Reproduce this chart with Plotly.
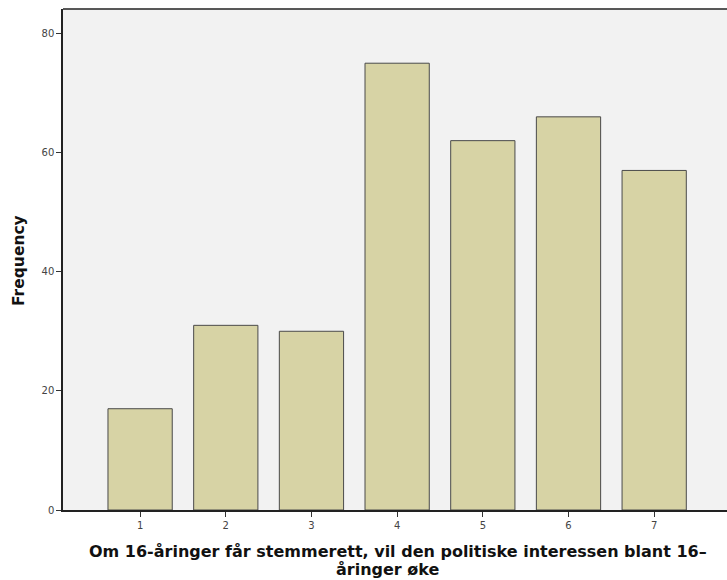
import plotly.graph_objects as go

categories = [1, 2, 3, 4, 5, 6, 7]
frequency = [17, 31, 30, 75, 62, 66, 57]
y_ticks = [0, 20, 40, 60, 80]
x_title_lines = ["Om 16-åringer får stemmerett, vil den politiske interessen blant 16–", "åringer øke"]

fig = go.Figure()
fig.add_trace(go.Bar(
    x=categories, y=frequency, width=0.75,
    marker=dict(color="#D7D3A5", line=dict(color="#4a4a4a", width=1)),
))

fig.update_layout(
    width=727, height=580,
    margin=dict(l=63, r=0, t=9, b=70),
    paper_bgcolor="white", plot_bgcolor="#F2F2F2",
    showlegend=False,
    font=dict(family="DejaVu Sans", size=10, color="#444444"),
    xaxis=dict(
        range=[0.1, 7.85], tickvals=categories, ticktext=[str(c) for c in categories],
        ticks="outside", ticklen=5, tickcolor="#333333", showgrid=False, zeroline=False,
        showline=True, linecolor="#222222", linewidth=1.5, automargin=False,
        tickfont=dict(size=10, color="#444444"),
    ),
    yaxis=dict(
        range=[0, 84.1], tickvals=y_ticks, ticks="outside", ticklen=5, tickcolor="#333333",
        showgrid=False, zeroline=False, showline=True, linecolor="#222222", linewidth=1.5,
        automargin=False, tickfont=dict(size=10, color="#444444"),
    ),
)
# top border
fig.add_shape(type="line", xref="paper", yref="paper", x0=0, x1=1, y0=1, y1=1,
              line=dict(color="#222222", width=1.5))
# y title
fig.add_annotation(
    text="<b>Frequency</b>", xref="paper", yref="paper",
    x=(19 - 63) / 664, y=(510 - 261) / 501, xanchor="center", yanchor="middle",
    textangle=-90, showarrow=False, font=dict(size=15.5, color="#111111", family="DejaVu Sans"),
)
# x title (two lines)
for line, xpix, ypix in zip(x_title_lines, [398, 388], [551, 569]):
    fig.add_annotation(
        text="<b>" + line + "</b>", xref="paper", yref="paper",
        x=(xpix - 63) / 664, y=(510 - ypix) / 501, xanchor="center", yanchor="middle",
        showarrow=False, font=dict(size=16, color="#111111", family="DejaVu Sans"),
    )
fig.write_html("out.html", config={"displayModeBar": False},
               post_script="document.body.style.margin='0';document.body.style.overflow='hidden';")
